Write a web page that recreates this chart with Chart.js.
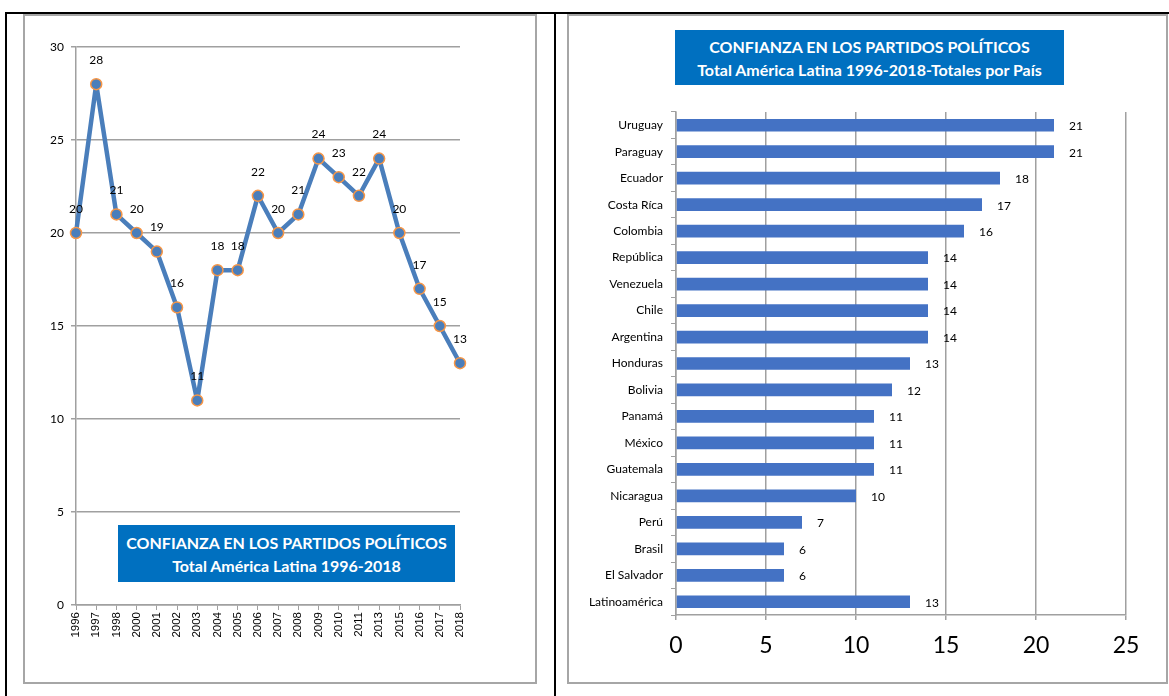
<!DOCTYPE html>
<html>
<head>
<meta charset="utf-8">
<script src="https://cdn.jsdelivr.net/npm/chart.js@4.4.1/dist/chart.umd.min.js"></script>
<style>
  html, body { margin: 0; padding: 0; background: #fff; }
  body { width: 1169px; height: 696px; position: relative; overflow: hidden; font-family: Lato, "Open Sans", sans-serif; }
  .blk { position: absolute; background: #000; }
  .gbox { position: absolute; border: 2px solid #a6a6a6; box-sizing: border-box; }
  canvas { position: absolute; }
  .title { position: absolute; background: #0070C0; color: #fff; font-weight: bold; font-size: 16px; line-height: 23px; text-align: center; display: flex; flex-direction: column; justify-content: center; }
</style>
</head>
<body>
<div class="blk" style="left:6px; top:12px; width:1163px; height:2px;"></div>
<div class="blk" style="left:5px; top:12px; width:2px; height:684px;"></div>
<div class="blk" style="left:554px; top:12px; width:2px; height:684px;"></div>
<div class="gbox" style="left:23px; top:14px; width:514px; height:670px;"></div>
<div class="gbox" style="left:567px; top:14px; width:601px; height:670px;"></div>

<canvas id="left" width="511" height="669" style="left:24px; top:14px;"></canvas>
<canvas id="right" width="597" height="669" style="left:569px; top:14px;"></canvas>

<div class="title" style="left:118px; top:525px; width:337px; height:57px;"><div>CONFIANZA EN LOS PARTIDOS POLÍTICOS</div><div>Total América Latina 1996-2018</div></div>
<div class="title" style="left:675px; top:30px; width:389px; height:55px;"><div>CONFIANZA EN LOS PARTIDOS POLÍTICOS</div><div>Total América Latina 1996-2018-Totales por País</div></div>

<script>
const years = ['1996','1997','1998','2000','2001','2002','2003','2004','2005','2006','2007','2008','2009','2010','2011','2013','2015','2016','2017','2018'];
const yearValues = [20,28,21,20,19,16,11,18,18,22,20,21,24,23,22,24,20,17,15,13];
const countries = ['Uruguay','Paraguay','Ecuador','Costa Ríca','Colombia','República','Venezuela','Chile','Argentina','Honduras','Bolivia','Panamá','México','Guatemala','Nicaragua','Perú','Brasil','El Salvador','Latinoamérica'];
const countryValues = [21,21,18,17,16,14,14,14,14,13,12,11,11,11,10,7,6,6,13];
const leftAxisMax = 30, leftAxisStep = 5;
const rightAxisMax = 25, rightAxisStep = 5;

const FONT = 'Lato, "Open Sans", sans-serif';
const GRID = '#a0a0a0';

const lineLabels = {
  id: 'lineLabels',
  afterDatasetsDraw(chart) {
    const ctx = chart.ctx;
    const meta = chart.getDatasetMeta(0);
    ctx.save();
    ctx.font = '12px ' + FONT;
    ctx.fillStyle = '#000';
    ctx.textAlign = 'center';
    ctx.textBaseline = 'middle';
    meta.data.forEach((pt, i) => {
      ctx.fillText(String(chart.data.datasets[0].data[i]), pt.x, pt.y - 24);
    });
    ctx.restore();
  }
};

const barLabels = {
  id: 'barLabels',
  afterDatasetsDraw(chart) {
    const ctx = chart.ctx;
    const meta = chart.getDatasetMeta(0);
    ctx.save();
    ctx.font = '12px ' + FONT;
    ctx.fillStyle = '#000';
    ctx.textAlign = 'left';
    ctx.textBaseline = 'middle';
    meta.data.forEach((bar, i) => {
      ctx.fillText(String(chart.data.datasets[0].data[i]), bar.x + 15, bar.y + 1);
    });
    ctx.restore();
  }
};

new Chart(document.getElementById('left'), {
  type: 'line',
  data: {
    labels: years,
    datasets: [{
      data: yearValues,
      borderColor: '#4A7EBB',
      borderWidth: 4.5,
      borderJoinStyle: 'round',
      borderCapStyle: 'round',
      pointRadius: 5.5,
      pointBackgroundColor: '#4A7EBB',
      pointBorderColor: '#F79646',
      pointBorderWidth: 1.5,
      tension: 0
    }]
  },
  options: {
    responsive: false,
    animation: false,
    devicePixelRatio: 1,
    layout: { padding: { left: 12, right: 75, top: 33, bottom: 38 } },
    plugins: { legend: { display: false }, tooltip: { enabled: false } },
    scales: {
      x: {
        offset: false,
        afterFit(s) { s.height = 40; },
        grid: { display: true, drawOnChartArea: false, drawTicks: true, tickLength: 5, color: GRID },
        border: { color: GRID, width: 1.5 },
        ticks: { minRotation: 90, maxRotation: 90, autoSkip: false, padding: 2, color: '#000', font: { size: 11.5, family: '"Liberation Sans", Arial, sans-serif' } }
      },
      y: {
        min: 0, max: leftAxisMax,
        afterFit(s) { s.width = 40; },
        grid: { color: GRID, lineWidth: 1.5, tickLength: 5 },
        border: { color: GRID, width: 1.5 },
        ticks: { stepSize: leftAxisStep, padding: 7, color: '#000', font: { size: 12, family: FONT } }
      }
    }
  },
  plugins: [lineLabels]
});

new Chart(document.getElementById('right'), {
  type: 'bar',
  data: {
    labels: countries,
    datasets: [{
      data: countryValues,
      backgroundColor: '#4472C4',
      barPercentage: 0.48,
      categoryPercentage: 1.0
    }]
  },
  options: {
    indexAxis: 'y',
    responsive: false,
    animation: false,
    devicePixelRatio: 1,
    layout: { padding: { left: 7, right: 40, top: 98, bottom: 18 } },
    plugins: { legend: { display: false }, tooltip: { enabled: false } },
    scales: {
      x: {
        min: 0, max: rightAxisMax,
        afterFit(s) { s.height = 50; },
        grid: { color: GRID, lineWidth: 1.5, tickLength: 5 },
        border: { color: GRID, width: 1.5 },
        ticks: { stepSize: rightAxisStep, padding: 12, color: '#000', font: { size: 23, family: FONT } }
      },
      y: {
        afterFit(s) { s.width = 100; },
        grid: { display: true, drawOnChartArea: false, tickLength: 5, color: GRID, offset: true },
        border: { color: GRID, width: 1.5 },
        ticks: { autoSkip: false, padding: 8, color: '#000', font: { size: 12, family: FONT } }
      }
    }
  },
  plugins: [barLabels]
});
</script>
</body>
</html>
